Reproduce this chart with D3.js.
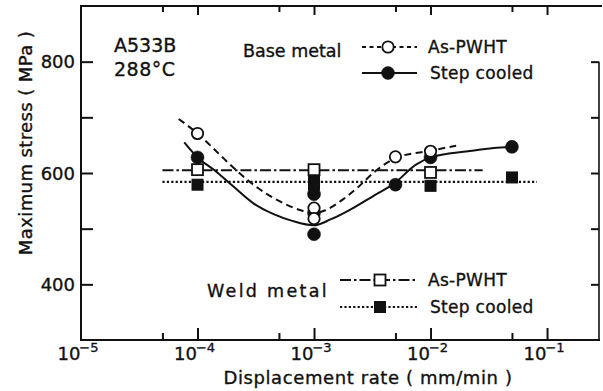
<!DOCTYPE html>
<html><head><meta charset="utf-8">
<script src="https://cdn.jsdelivr.net/npm/d3@7"></script>
<style>body{margin:0;background:#fff}svg{display:block}text{font-family:"DejaVu Sans",sans-serif;fill:#111;stroke:#111;stroke-width:0.35px}</style>
</head><body><svg id="c" width="603" height="391"></svg>
<script>
// ---- data ----
const xMajorTicks=[1e-5,1e-4,1e-3,1e-2,1e-1];
const xTickExponents=["\u22125","\u22124","\u22123","\u22122","\u22121"];
const xMinorTicks=[5e-5,5e-4,5e-3,5e-2];
const yTicks=[400,500,600,700,800];
const yTickLabels=["400","","600","","800"];

const baseAsPWHT=[[1e-4,671],[1e-3,537],[1e-3,518],[5e-3,629],[1e-2,639]];
const baseStepCooled=[[1e-4,628],[1e-3,562],[1e-3,528],[1e-3,490],[5e-3,579],[1e-2,628],[5e-2,647]];
const weldAsPWHT=[[1e-4,606],[1e-3,606],[1e-2,601]];
const weldStepCooled=[[1e-4,579],[1e-3,586],[1e-3,579],[1e-2,577],[5e-2,592]];

const baseAsCurve=[[6.9e-5,697],[1e-4,671],[1.5e-4,636],[2.2e-4,603],[3.3e-4,573],[5.2e-4,548],[7.7e-4,533],[1e-3,528],[1.25e-3,533],[1.7e-3,550],[2.4e-3,575],[3.3e-3,602],[5.2e-3,628],[1e-2,640],[1.66e-2,649]];
const baseStepCurve=[[7.7e-5,655],[1e-4,628],[1.4e-4,605],[2.0e-4,577],[3.0e-4,546],[4.5e-4,526],[6.5e-4,514],[1e-3,506],[1.4e-3,517],[2.2e-3,538],[3.3e-3,560],[4.8e-3,580],[7.5e-3,615],[1e-2,628],[2.1e-2,639],[3.5e-2,645],[5.1e-2,647]];
const weldAsLine=[[5e-5,605],[2.8e-2,605]];
const weldStepLine=[[5e-5,584],[8.2e-2,584]];

// ---- layout ----
const svg=d3.select("#c");
const L=81,R=599,T=6,B=340;
const x=d3.scaleLog().domain([1e-5,Math.pow(10,-0.554)]).range([L,R]);
const y=d3.scaleLinear().domain([300,900]).range([B,T]);
const ink="#111";

// frame
svg.append("line").attr("x1",L).attr("x2",L).attr("y1",T).attr("y2",B+1).attr("stroke",ink).attr("stroke-width",2);
svg.append("line").attr("x1",L-1).attr("x2",R+1).attr("y1",B).attr("y2",B).attr("stroke",ink).attr("stroke-width",2.2);
svg.append("line").attr("x1",L-1).attr("x2",602).attr("y1",T).attr("y2",T).attr("stroke",ink).attr("stroke-width",2.2);
svg.append("line").attr("x1",R).attr("x2",R).attr("y1",y(800)).attr("y2",B+1).attr("stroke",ink).attr("stroke-width",1.6);

// axes via d3 axis generators (inward ticks)
const xb=svg.append("g").attr("transform",`translate(0,${B})`)
  .call(d3.axisBottom(x).tickValues(xMajorTicks.slice(1)).tickSize(-12).tickFormat(""));
const xbm=svg.append("g").attr("transform",`translate(0,${B})`)
  .call(d3.axisBottom(x).tickValues(xMinorTicks).tickSize(-7).tickFormat(""));
const xt=svg.append("g").attr("transform",`translate(0,${T})`)
  .call(d3.axisTop(x).tickValues(xMajorTicks.slice(1)).tickSize(-9).tickFormat(""));
const xtm=svg.append("g").attr("transform",`translate(0,${T})`)
  .call(d3.axisTop(x).tickValues(xMinorTicks).tickSize(-6).tickFormat(""));
const yl=svg.append("g").attr("transform",`translate(${L},0)`)
  .call(d3.axisLeft(y).tickValues(yTicks).tickSize(-12).tickFormat(""));
const yr=svg.append("g").attr("transform",`translate(${R},0)`)
  .call(d3.axisRight(y).tickValues(yTicks).tickSize(-8).tickFormat(""));
[xb,xbm,xt,xtm,yl,yr].forEach(g=>{g.select(".domain").remove();g.selectAll("line").attr("stroke",ink).attr("stroke-width",2);});

// y tick labels
svg.append("g").selectAll("text").data(yTicks).join("text")
  .attr("x",L-6).attr("y",d=>y(d)+6.5).attr("text-anchor","end")
  .attr("font-size",18).text((d,i)=>yTickLabels[i]);
// x tick labels
const xl=svg.append("g").selectAll("text").data(xMajorTicks).join("text")
  .attr("x",d=>x(d)-3).attr("y",360).attr("text-anchor","middle").attr("font-size",18);
xl.append("tspan").text("10");
xl.append("tspan").attr("dy",-8).attr("font-size",13).attr("dx",-1).text((d,i)=>xTickExponents[i]);

// axis titles
svg.append("text").attr("x",368).attr("y",384).attr("text-anchor","middle").attr("font-size",18)
  .attr("letter-spacing",0.6).text("Displacement rate ( mm/min )");
svg.append("text").attr("transform","translate(32,143) rotate(-90)").attr("text-anchor","middle")
  .attr("font-size",18).attr("letter-spacing",0.4).text("Maximum stress ( MPa )");

// annotations
svg.append("text").attr("x",114).attr("y",52).attr("font-size",19).text("A533B");
svg.append("text").attr("x",114).attr("y",76).attr("font-size",19).attr("letter-spacing",0.5).text("288°C");
svg.append("text").attr("x",243).attr("y",57).attr("font-size",17.5).text("Base metal");
svg.append("text").attr("x",207).attr("y",297).attr("font-size",17.5).attr("letter-spacing",2.3).text("Weld metal");

// lines
const line=d3.line().x(d=>x(d[0])).y(d=>y(d[1]));
const lineC=d3.line().x(d=>x(d[0])).y(d=>y(d[1])).curve(d3.curveMonotoneX);
const styles={
  baseAs:{dash:"7,4.5",w:2},
  baseStep:{dash:null,w:2},
  weldAs:{dash:"11,3,2.5,3",w:2},
  weldStep:{dash:"2.2,2.2",w:2.2}
};
function path(data,gen,st){
  const p=svg.append("path").datum(data).attr("d",gen).attr("fill","none").attr("stroke",ink).attr("stroke-width",st.w);
  if(st.dash) p.attr("stroke-dasharray",st.dash);
}
path(weldAsLine,line,styles.weldAs);
path(weldStepLine,line,styles.weldStep);
path(baseAsCurve,lineC,styles.baseAs);
path(baseStepCurve,lineC,styles.baseStep);

// markers
function squares(data,filled){
  svg.append("g").selectAll("rect").data(data).join("rect")
    .attr("x",d=>x(d[0])-5.5).attr("y",d=>y(d[1])-5.5).attr("width",11).attr("height",11)
    .attr("fill",filled?ink:"#fff").attr("stroke",ink).attr("stroke-width",filled?1:1.8);
}
function circles(data,filled){
  svg.append("g").selectAll("circle").data(data).join("circle")
    .attr("cx",d=>x(d[0])).attr("cy",d=>y(d[1])).attr("r",filled?6.5:5.7)
    .attr("fill",filled?ink:"#fff").attr("stroke",ink).attr("stroke-width",filled?0.5:1.8);
}
squares(weldStepCooled,true);
squares(weldAsPWHT,false);
circles(baseStepCooled,true);
circles(baseAsPWHT,false);

// legends
function legendRow(x1,x2,yy,st,mx,kind,filled,label,tx){
  const g=svg.append("g");
  const l=g.append("line").attr("x1",x1).attr("x2",x2).attr("y1",yy).attr("y2",yy).attr("stroke",ink).attr("stroke-width",st.w);
  if(st.dash) l.attr("stroke-dasharray",st.dash);
  if(kind==="c") g.append("circle").attr("cx",mx).attr("cy",yy).attr("r",filled?6.5:5.7)
      .attr("fill",filled?ink:"#fff").attr("stroke",ink).attr("stroke-width",filled?0.5:1.8);
  else g.append("rect").attr("x",mx-5.5).attr("y",yy-5.5).attr("width",11).attr("height",11)
      .attr("fill",filled?ink:"#fff").attr("stroke",ink).attr("stroke-width",filled?1:1.8);
  g.append("text").attr("x",tx).attr("y",yy+6).attr("font-size",17).attr("letter-spacing",0.3).text(label);
}
legendRow(362,417,47,{dash:"4,3.5",w:1.8},388,"c",false,"As-PWHT",428);
legendRow(362,417,73,styles.baseStep,388,"c",true,"Step cooled",430);
legendRow(340,417,280,styles.weldAs,380,"s",false,"As-PWHT",428);
legendRow(340,417,307,styles.weldStep,380,"s",true,"Step cooled",430);
</script></body></html>
